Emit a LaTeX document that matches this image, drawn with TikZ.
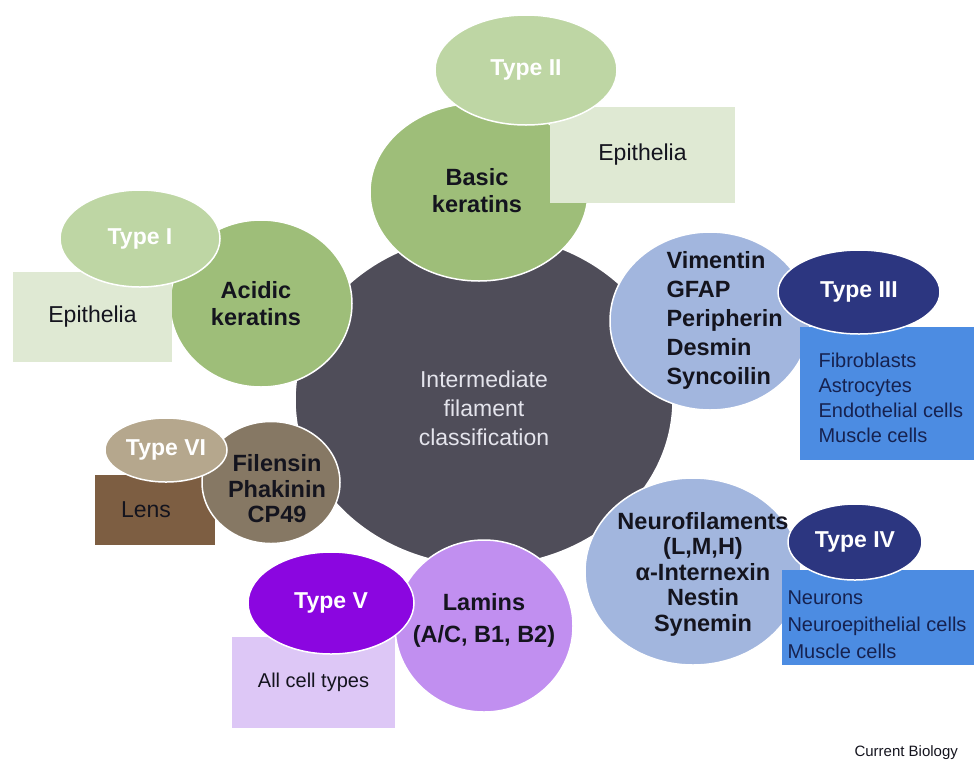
\documentclass[tikz,border=0pt]{standalone}
\usepackage{fontspec}
\setmainfont{Liberation Sans}
\usetikzlibrary{shapes.geometric, positioning}
\usepackage{xcolor}
\definecolor{hubgray}{RGB}{79,77,89}
\definecolor{hubtext}{RGB}{228,228,236}
\definecolor{inktext}{RGB}{20,20,30}
\definecolor{keratingreen}{RGB}{158,190,121}
\definecolor{keratinlight}{RGB}{190,214,164}
\definecolor{epithelgreen}{RGB}{223,233,211}
\definecolor{vimblue}{RGB}{162,182,222}
\definecolor{typenavy}{RGB}{44,54,128}
\definecolor{cellblue}{RGB}{76,140,226}
\definecolor{celltext}{RGB}{22,34,80}
\definecolor{lensbrown}{RGB}{125,94,66}
\definecolor{filensinbrown}{RGB}{134,120,100}
\definecolor{typesixtan}{RGB}{181,167,141}
\definecolor{laminlilac}{RGB}{193,143,240}
\definecolor{typefivepurple}{RGB}{139,6,224}
\definecolor{allcelllilac}{RGB}{221,199,246}
\newcommand{\typefont}{\fontsize{23}{28}\selectfont\bfseries}
\newcommand{\memberfont}[1]{\fontsize{23.5}{#1}\selectfont\bfseries}
\newcommand{\plainfont}[1]{\fontsize{23}{#1}\selectfont}
\newcommand{\listfont}[1]{\fontsize{20}{#1}\selectfont}
\tikzstyle{blob} = [ellipse, draw=white, line width=1.5pt, inner sep=0pt]
\tikzstyle{tag} = [ellipse, draw=white, line width=1.5pt, inner sep=0pt, text=white, font=\typefont]
\tikzstyle{cellbox} = [rectangle, inner sep=0pt]
\tikzstyle{member} = [text=inktext, align=center]

\begin{document}
\begin{tikzpicture}[x=1pt, y=-1pt]

\useasboundingbox (0,0) rectangle (974,764);

% Centre
\node[blob, fill=hubgray, minimum width=378pt, minimum height=332pt] (hub) at (484,400) {};
\node[font=\plainfont{29}, text=hubtext, align=center] (hubtxt) at (484,408) {Intermediate\\filament\\classification};

% Type II
\node[blob, fill=keratingreen, minimum width=218pt, minimum height=178pt] (basic) at (479,192) {};
\node[member, font=\memberfont{27}] (basictxt) at (477,191) {Basic\\keratins};
\node[cellbox, fill=epithelgreen, minimum width=185pt, minimum height=96pt, font=\plainfont{28}, text=inktext] (epitwo) at (642.5,155) {Epithelia};
\node[tag, fill=keratinlight, minimum width=182pt, minimum height=110pt] (typetwo) at (526,70) {Type II};

% Type I
\node[blob, fill=keratingreen, minimum width=182pt, minimum height=167pt] (acidic) at (261,303.5) {};
\node[member, font=\memberfont{27}] (acidictxt) at (256,304) {Acidic\\keratins};
\node[cellbox, fill=epithelgreen, minimum width=159pt, minimum height=90pt, font=\plainfont{28}, text=inktext] (epione) at (92.5,317) {Epithelia};
\node[tag, fill=keratinlight, minimum width=160pt, minimum height=97pt] (typeone) at (140,238.5) {Type I};

% Type III
\node[blob, fill=vimblue, minimum width=200pt, minimum height=178pt] (vimentin) at (710,321) {};
\node[member, font=\memberfont{29}, align=left, anchor=west] (vimentintxt) at (663,320) {Vimentin\\GFAP\\Peripherin\\Desmin\\Syncoilin};
\node[cellbox, fill=cellblue, minimum width=174pt, minimum height=133pt] (cellsthree) at (887,393.5) {};
\node[font=\listfont{25}, text=celltext, align=left, anchor=west] (cellsthreetxt) at (815,397.5) {Fibroblasts\\Astrocytes\\Endothelial cells\\Muscle cells};
\node[tag, fill=typenavy, minimum width=162pt, minimum height=84pt] (typethree) at (859,292) {Type III};

% Type IV
\node[blob, fill=vimblue, minimum width=216pt, minimum height=187pt] (neuro) at (693,571.5) {};
\node[member, font=\memberfont{25.5}] (neurotxt) at (703,574) {Neurofilaments\\(L,M,H)\\α-Internexin\\Nestin\\Synemin};
\node[cellbox, fill=cellblue, minimum width=192pt, minimum height=95pt] (cellsfour) at (878,617.5) {};
\node[font=\listfont{27}, text=celltext, align=left, anchor=west] (cellsfourtxt) at (784,625) {Neurons\\Neuroepithelial cells\\Muscle cells};
\node[tag, fill=typenavy, minimum width=134pt, minimum height=76pt] (typefour) at (855,542) {Type IV};

% Type V
\node[cellbox, fill=allcelllilac, minimum width=163pt, minimum height=91pt, font=\listfont{24}, text=inktext] (allcells) at (313.5,682.5) {All cell types};
\node[blob, fill=laminlilac, minimum width=178pt, minimum height=172pt] (lamins) at (484,626) {};
\node[member, font=\memberfont{32}] (laminstxt) at (484,620) {Lamins\\(A/C, B1, B2)};
\node[tag, fill=typefivepurple, minimum width=166pt, minimum height=102pt] (typefive) at (331,603) {Type V};

% Type VI
\node[cellbox, fill=lensbrown, minimum width=120pt, minimum height=70pt] (lens) at (155,510) {};
\node[font=\plainfont{28}, text=inktext] (lenstxt) at (146,510) {Lens};
\node[blob, fill=filensinbrown, minimum width=138pt, minimum height=122pt] (filensin) at (271,482.5) {};
\node[member, font=\memberfont{25.5}] (filensintxt) at (277,489) {Filensin\\Phakinin\\CP49};
\node[tag, fill=typesixtan, minimum width=122pt, minimum height=64pt] (typesix) at (166,450) {Type VI};

% Credit
\node[font=\fontsize{15}{18}\selectfont, text=inktext, anchor=west] (credit) at (851,753) {Current Biology};

\end{tikzpicture}
\end{document}
